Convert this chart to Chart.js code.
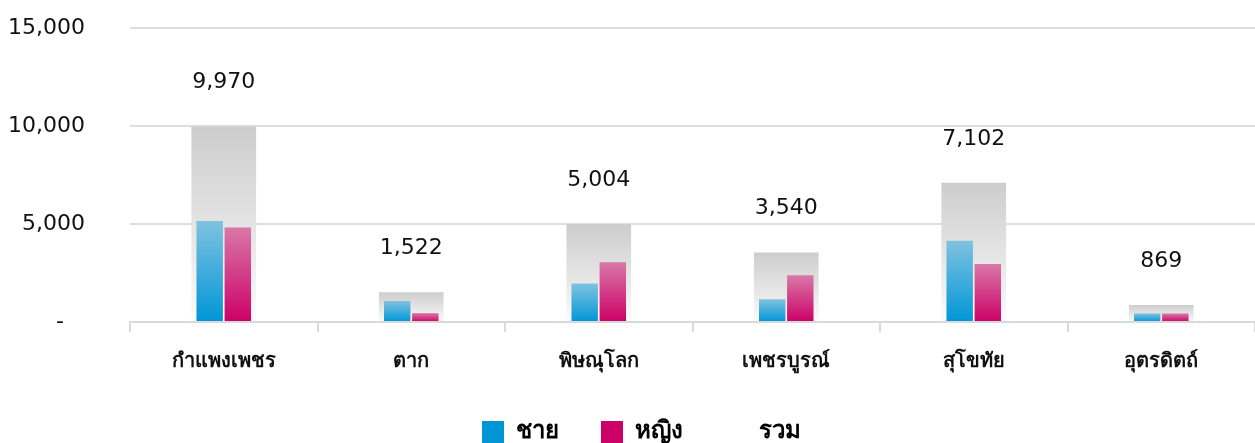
<!DOCTYPE html>
<html>
<head>
<meta charset="utf-8">
<script src="https://cdn.jsdelivr.net/npm/chart.js@4.4.1/dist/chart.umd.min.js"></script>
<style>
  html, body { margin:0; padding:0; background:#fff; }
  #wrap { width:1255px; height:443px; }
</style>
</head>
<body>
<div id="wrap"><canvas id="chart" width="1255" height="443"></canvas></div>
<script>
// Données
const provinces = ["กำแพงเพชร", "ตาก", "พิษณุโลก", "เพชรบูรณ์", "สุโขทัย", "อุตรดิตถ์"];
const male   = [5150, 1070, 1960, 1160, 4140, 435];
const female = [4820,  452, 3044, 2380, 2962, 434];
const total  = [9970, 1522, 5004, 3540, 7102, 869];
const seriesNames = ["ชาย", "หญิง", "รวม"];
const yTicks = [0, 5000, 10000, 15000];

const FONT = "'DejaVu Sans', Tahoma, sans-serif";

// dégradé vertical par barre
function gradFill(top, bottom, fallback){
  return (ctx)=>{
    const chart = ctx.chart;
    if(!chart.chartArea || ctx.type !== "data") return fallback;
    const y = chart.scales.y;
    const v = ctx.raw;
    const yTop = y.getPixelForValue(v), yBot = y.getPixelForValue(0);
    if(!isFinite(yTop) || yBot - yTop < 1) return fallback;
    const g = chart.ctx.createLinearGradient(0, yTop, 0, yBot);
    g.addColorStop(0, top);
    g.addColorStop(1, bottom);
    return g;
  };
}

// étiquettes des totaux
const totalLabels = {
  id: "totalLabels",
  afterLayout(chart){
    // légende un peu décalée vers la droite
    chart.legend.left += 14;
    chart.legend.right += 14;
  },
  afterDatasetsDraw(chart){
    const meta = chart.getDatasetMeta(2);
    const c = chart.ctx;
    c.save();
    c.font = "22px " + FONT;
    c.fillStyle = "#111";
    c.textAlign = "center";
    c.textBaseline = "middle";
    meta.data.forEach((bar, i)=>{
      c.fillText(total[i].toLocaleString("en-US"), bar.x, bar.y - 44);
    });
    c.restore();
  }
};

const legendColors = ["#0096d6", "#cc0066", "rgba(0,0,0,0)"];

new Chart(document.getElementById("chart").getContext("2d"), {
  type: "bar",
  data: {
    labels: provinces,
    datasets: [
      { label: seriesNames[0], data: male, order: 0,
        backgroundColor: gradFill("#80c2e0", "#0096d6", "#0096d6"),
        categoryPercentage: 0.3, barPercentage: 0.94 },
      { label: seriesNames[1], data: female, order: 0,
        backgroundColor: gradFill("#d978a8", "#cc0066", "#cc0066"),
        categoryPercentage: 0.3, barPercentage: 0.94 },
      { label: seriesNames[2], data: total, order: 1, grouped: false,
        backgroundColor: gradFill("#cdcdcd", "#fbfbfb", "#e0e0e0"),
        categoryPercentage: 0.345, barPercentage: 1 }
    ]
  },
  options: {
    responsive: false,
    animation: false,
    layout: { padding: { top: 28, right: 0, left: 0, bottom: -11 } },
    plugins: {
      tooltip: { enabled: false },
      legend: {
        position: "bottom",
        labels: {
          font: { family: FONT, size: 24, weight: "bold" },
          color: "#111",
          boxWidth: 22, boxHeight: 22,
          padding: 42,
          generateLabels(chart){
            return chart.data.datasets.map((ds, i)=>({
              text: ds.label, fillStyle: legendColors[i], strokeStyle: "rgba(0,0,0,0)",
              lineWidth: 0, datasetIndex: i, hidden: false
            }));
          }
        }
      }
    },
    scales: {
      x: {
        afterFit(scale){ scale.height -= 14; },
        grid: { display: true, drawOnChartArea: false, drawTicks: true, tickLength: 10, color: "#d9d9d9", lineWidth: 2, offset: true },
        border: { display: true, color: "#d9d9d9", width: 2 },
        ticks: { font: { family: FONT, size: 20, weight: "bold" }, color: "#111", padding: 18 }
      },
      y: {
        min: 0, max: 15000,
        afterBuildTicks(scale){ scale.ticks = yTicks.map(v=>({ value: v })); },
        afterFit(scale){ scale.width = 130; scale.paddingTop = 13; scale.paddingBottom = 13; },
        grid: { color: "#dedede", lineWidth: 2, drawTicks: false },
        border: { display: false },
        ticks: {
          font: { family: FONT, size: 22 }, color: "#111", padding: 45,
          callback: (v)=> v === 0 ? "-   " : Number(v).toLocaleString("en-US")
        }
      }
    }
  },
  plugins: [totalLabels]
});
</script>
</body>
</html>
